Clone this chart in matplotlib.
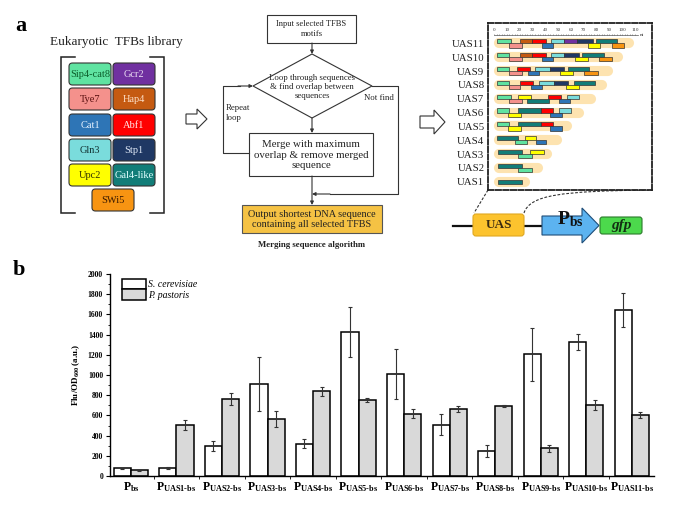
import matplotlib
matplotlib.use('Agg')
import matplotlib.pyplot as plt
from matplotlib.patches import Rectangle, FancyBboxPatch, Polygon, PathPatch
from matplotlib.path import Path
import numpy as np

plt.rcParams['font.family'] = ['Liberation Serif', 'DejaVu Serif']
plt.rcParams['mathtext.fontset'] = 'custom'
plt.rcParams['mathtext.rm'] = 'Liberation Serif'
plt.rcParams['mathtext.bf'] = 'Liberation Serif:bold'
plt.rcParams['mathtext.it'] = 'Liberation Serif:italic'
plt.rcParams['mathtext.bfit'] = 'Liberation Serif:bold:italic'

# ---------------- panel b data ----------------
promoters = ['bs', 'UAS1\u2010bs', 'UAS2\u2010bs', 'UAS3\u2010bs', 'UAS4\u2010bs', 'UAS5\u2010bs',
             'UAS6\u2010bs', 'UAS7\u2010bs', 'UAS8\u2010bs', 'UAS9\u2010bs', 'UAS10\u2010bs', 'UAS11\u2010bs']
sc_mean = [78, 75, 300, 912, 318, 1428, 1008, 509, 251, 1203, 1329, 1646]
sc_err = [5, 10, 50, 265, 45, 250, 245, 100, 60, 265, 80, 167]
pp_mean = [58, 502, 760, 565, 840, 754, 615, 665, 694, 274, 707, 602]
pp_err = [6, 48, 58, 80, 45, 20, 45, 28, 8, 33, 50, 32]
y_ticks = [0, 200, 400, 600, 800, 1000, 1200, 1400, 1600, 1800, 2000]
series_names = ['S. cerevisiae', 'P. pastoris']

# ---------------- panel a data ----------------
library_names = ['Sip4-cat8', 'Gcr2', 'Tye7', 'Hap4', 'Cat1', 'Abf1',
                 'Gln3', 'Stp1', 'Upc2', 'Gal4-like', 'SWi5']
library_fill = ['#5fe3a1', '#7030a0', '#f4918c', '#c55a11', '#2e75b6', '#ff0000',
                '#7adcdc', '#1f3864', '#ffff00', '#127d78', '#f79412']
library_text = ['#0b5d2a', '#eadcf3', '#5a1010', '#fde0c8', '#e6f2ff', '#ffe6e6',
                '#103030', '#dde6f5', '#333300', '#e0ffff', '#3a1a00']

uas_names = ['UAS11', 'UAS10', 'UAS9', 'UAS8', 'UAS7', 'UAS6',
             'UAS5', 'UAS4', 'UAS3', 'UAS2', 'UAS1']
uas_length = [109, 101, 93, 88, 80, 70, 61, 53, 45, 38.5, 28]
uas_motifs = [
    [('Sip4-cat8', 2.6, 13, 1), ('Hap4', 20, 30, 1), ('Abf1', 30, 40.5, 1), ('Gln3', 44.5, 55, 1),
     ('Gcr2', 55, 64.5, 1), ('Stp1', 64.5, 77, 1), ('Gal4-like', 79.6, 95.7, 1),
     ('Tye7', 11.4, 21.6, -1), ('Cat1', 37.5, 46, -1), ('Upc2', 73.6, 82.7, -1), ('SWi5', 92, 101.4, -1)],
    [('Sip4-cat8', 2.6, 12, 1), ('Hap4', 20, 30, 1), ('Abf1', 30, 40.5, 1), ('Gln3', 44.5, 55, 1),
     ('Stp1', 55, 66.6, 1), ('Gal4-like', 69, 86, 1),
     ('Tye7', 11.4, 21.6, -1), ('Cat1', 37.5, 46, -1), ('Upc2', 63, 73, -1), ('SWi5', 82, 92, -1)],
    [('Sip4-cat8', 2.6, 12, 1), ('Abf1', 18, 28, 1), ('Gln3', 32, 43.7, 1), ('Stp1', 43.7, 55, 1),
     ('Gal4-like', 58, 74.4, 1),
     ('Tye7', 11.4, 21.6, -1), ('Cat1', 26.8, 35, -1), ('Upc2', 51.5, 62, -1), ('SWi5', 70.5, 81, -1)],
    [('Sip4-cat8', 2.6, 12, 1), ('Abf1', 20, 30.7, 1), ('Gln3', 35, 47, 1), ('Stp1', 47, 58, 1),
     ('Gal4-like', 62.4, 78.8, 1),
     ('Tye7', 11.4, 20, -1), ('Cat1', 28.6, 37.5, -1), ('Upc2', 56, 66, -1)],
    [('Sip4-cat8', 2.6, 13, 1), ('Upc2', 19, 29, 1), ('Abf1', 42.4, 52.3, 1), ('Gln3', 57, 66.6, 1),
     ('Tye7', 11.4, 21.6, -1), ('Gal4-like', 25.5, 43, -1), ('Cat1', 51, 59, -1)],
    [('Sip4-cat8', 2.6, 12, 1), ('Gal4-like', 19, 36.4, 1), ('Abf1', 36.4, 46.3, 1), ('Gln3', 51, 60, 1),
     ('Upc2', 11, 21, -1), ('Cat1', 43.7, 52.8, -1)],
    [('Sip4-cat8', 2.6, 12, 1), ('Gal4-like', 19, 36.4, 1), ('Abf1', 36.4, 46.3, 1),
     ('Upc2', 11, 21, -1), ('Cat1', 43.7, 52.8, -1)],
    [('Gal4-like', 2.6, 19, 1), ('Upc2', 24, 33, 1),
     ('Sip4-cat8', 16, 25.5, -1), ('Cat1', 32.5, 40.6, -1)],
    [('Gal4-like', 3, 21.6, 1), ('Upc2', 28, 39, 1), ('Sip4-cat8', 19, 30, -1)],
    [('Gal4-like', 3, 21.6, 1), ('Sip4-cat8', 19, 30, -1)],
    [('Gal4-like', 3, 21.6, 0)],
]
ruler_ticks = [0, 10, 20, 30, 40, 50, 60, 70, 80, 90, 100, 110]

color_of = dict(zip(library_names, library_fill))

W, H = 687, 507
fig = plt.figure(figsize=(W / 100, H / 100), dpi=100)

# full-figure pixel-space canvas for the diagram
ax0 = fig.add_axes([0, 0, 1, 1])
ax0.set_xlim(0, W)
ax0.set_ylim(H, 0)
ax0.axis('off')

ax0.text(15, 31, 'a', fontsize=16, fontweight='bold', ha='left', va='baseline')
ax0.text(13, 275, 'b', fontsize=16, fontweight='bold', ha='left', va='baseline')

# ---- TFBs library ----
ax0.text(116, 44.5, 'Eukaryotic  TFBs library', fontsize=9.5, ha='center', va='baseline', color='#222')
bk = '#222'
ax0.plot([75, 61, 61, 75], [57, 57, 213, 213], color=bk, lw=1.1, solid_joinstyle='miter')
ax0.plot([150, 164, 164, 150], [57, 57, 213, 213], color=bk, lw=1.1, solid_joinstyle='miter')
col_x = [69, 113]
row_y = [63, 88, 114, 139, 164]
for i, name in enumerate(library_names):
    if i < 10:
        x0 = col_x[i % 2]
        y0 = row_y[i // 2]
    else:
        x0, y0 = 92, 189
    box = FancyBboxPatch((x0, y0), 42, 22, boxstyle='round,pad=0,rounding_size=3.5',
                         facecolor=library_fill[i], edgecolor='#333', lw=0.8)
    ax0.add_patch(box)
    ax0.text(x0 + 21, y0 + 11.5, name, fontsize=7.5, ha='center', va='center', color=library_text[i])


def hollow_arrow(x0, x1, xh, yc, sh, hh):
    pts = [(x0, yc - sh), (xh, yc - sh), (xh, yc - hh), (x1, yc), (xh, yc + hh),
           (xh, yc + sh), (x0, yc + sh)]
    ax0.add_patch(Polygon(pts, closed=True, facecolor='white', edgecolor='#333', lw=0.8))


hollow_arrow(186, 207, 197, 119, 5, 10)
hollow_arrow(420, 445, 434, 122, 6, 12)

# ---- flowchart ----
fc = '#333'
fs_small = 6.3
ax0.add_patch(Rectangle((267, 15), 89, 28, facecolor='white', edgecolor=fc, lw=0.8))
ax0.text(311.5, 29, 'Input selected TFBS\nmotifs', fontsize=6.1, ha='center', va='center',
         color='#222', linespacing=1.3)
arrow_kw = dict(arrowstyle='-|>', color=fc, lw=0.8, mutation_scale=5, shrinkA=0, shrinkB=0)
ax0.annotate('', xy=(312, 54), xytext=(312, 43), arrowprops=arrow_kw)
ax0.add_patch(Polygon([(312, 54), (372, 86), (312, 118), (253, 86)], closed=True,
                      facecolor='white', edgecolor=fc, lw=0.8))
ax0.text(312, 87, 'Loop through sequences\n& find overlap between\nsequences', fontsize=fs_small,
         ha='center', va='center', color='#222', linespacing=1.2)
ax0.annotate('', xy=(312, 133), xytext=(312, 118), arrowprops=arrow_kw)
ax0.add_patch(Rectangle((249, 133), 124, 43, facecolor='white', edgecolor=fc, lw=0.8))
ax0.text(311, 155, 'Merge with maximum\noverlap & remove merged\nsequence', fontsize=7.8,
         ha='center', va='center', color='#222', linespacing=1.15)
ax0.plot([249, 223, 223, 240], [153, 153, 86, 86], color=fc, lw=0.8)
ax0.annotate('', xy=(253, 86), xytext=(238, 86), arrowprops=arrow_kw)
ax0.text(226, 113, 'Repeat\nloop', fontsize=fs_small, ha='left', va='center', color='#222',
         linespacing=1.5)
ax0.plot([372, 398, 398, 330], [86, 86, 194, 194], color=fc, lw=0.8)
ax0.annotate('', xy=(312, 194), xytext=(330, 194), arrowprops=arrow_kw)
ax0.text(364, 98.5, 'Not find', fontsize=fs_small, ha='left', va='center', color='#222')
ax0.annotate('', xy=(312, 205), xytext=(312, 176), arrowprops=arrow_kw)
ax0.add_patch(Rectangle((242, 205), 140, 28, facecolor='#f5c244', edgecolor='#555', lw=0.8))
ax0.text(312, 219.5, 'Output shortest DNA sequence\ncontaining all selected TFBS', fontsize=7.4,
         ha='center', va='center', color='#222', linespacing=1.15)
ax0.text(312, 245, 'Merging sequence algorithm', fontsize=6.3, fontweight='bold',
         ha='center', va='center', color='#222')

# ---- construct ----
ax0.plot([453, 543], [226, 226], color='#111', lw=1.6, zorder=1)
ax0.add_patch(FancyBboxPatch((473, 214), 51, 22, boxstyle='round,pad=0,rounding_size=3',
                             facecolor='#fcc32e', edgecolor='#e0a820', lw=0.8, zorder=2))
ax0.text(498.5, 225.5, 'UAS', fontsize=9.5, fontweight='bold', ha='center', va='center',
         color='#3a2a10', zorder=3)
ax0.add_patch(Polygon([(542, 216), (582, 216), (582, 208), (599, 225.5), (582, 243),
                       (582, 235), (542, 235)], closed=True, facecolor='#5cb3f0',
                      edgecolor='#1f4e79', lw=0.8, zorder=2))
ax0.text(557, 224.5, r'P$_{\mathbf{bs}}$', fontsize=14, fontweight='bold', ha='left',
         va='baseline', color='#111', zorder=3)
ax0.add_patch(FancyBboxPatch((600, 217), 42, 17, boxstyle='round,pad=0,rounding_size=2.5',
                             facecolor='#4cd94c', edgecolor='#2a7a2a', lw=0.8, zorder=2))
ax0.text(621, 225.5, 'gfp', fontsize=11, fontweight='bold', style='italic', ha='center',
         va='center', color='#123012', zorder=3)
ax0.plot([488, 474], [190, 213], color='#333', lw=0.8, ls=(0, (2.5, 1.5)))
curve = Path([(524, 213), (530, 195), (560, 191), (652, 190)],
             [Path.MOVETO, Path.CURVE4, Path.CURVE4, Path.CURVE4])
ax0.add_patch(PathPatch(curve, facecolor='none', edgecolor='#333', lw=0.8, ls=(0, (2.5, 1.5))))

# ---- UAS panel ----
axu = fig.add_axes([488 / W, 1 - 190 / H, 164 / W, 167 / H])
axu.set_xlim(-4.7, 123.3)
axu.set_ylim(10.6, -1.48)
for s in axu.spines.values():
    s.set_linestyle((0, (3, 1.2)))
    s.set_linewidth(1.3)
    s.set_color('#222')
axu.set_xticks([])
axu.set_yticks(range(len(uas_names)))
axu.set_yticklabels(uas_names, fontsize=7.8, color='#222')
axu.tick_params(axis='y', length=0, pad=2.5)
for r, L in enumerate(uas_length):
    axu.plot([3.5, L - 4], [r, r], color='#fde3b0', lw=7.3, solid_capstyle='round', zorder=1)
    for name, a, b, lev in uas_motifs[r]:
        if lev == 1:
            y0 = r - 0.3
        elif lev == -1:
            y0 = r
        else:
            y0 = r - 0.15
        axu.add_patch(Rectangle((a, y0), b - a, 0.3, facecolor=color_of[name],
                                edgecolor='#333', lw=0.5, zorder=2))
axu.plot([0, 112], [-0.62, -0.62], color='#555', lw=0.5)
axu.vlines(np.arange(0, 112, 2), -0.62, -0.7, color='#555', lw=0.4)
for t in ruler_ticks:
    axu.text(t, -0.98, str(t), fontsize=3.6, ha='center', va='center', color='#333')
axu.text(115.5, -0.62, 'nt', fontsize=3.8, ha='center', va='center', color='#333')

# ---------------- panel b ----------------
ax = fig.add_axes([110 / W, 1 - 476 / H, (654 - 110) / W, (476 - 274) / H])
x = np.arange(len(promoters))
w = 0.375
ekw = dict(ecolor='#333', elinewidth=0.8, capsize=1.6, capthick=0.8)
ax.bar(x - w / 2, sc_mean, w, yerr=sc_err, color='white', edgecolor='black', lw=1.1,
       error_kw=ekw, label=series_names[0], zorder=2)
ax.bar(x + w / 2, pp_mean, w, yerr=pp_err, color='#d9d9d9', edgecolor='black', lw=1.1,
       error_kw=ekw, label=series_names[1], zorder=2)
ax.set_xlim(-0.46, len(promoters) - 1 + 0.49)
ax.set_ylim(0, 2000)
ax.spines['top'].set_visible(False)
ax.spines['right'].set_visible(False)
ax.spines['left'].set_linewidth(1.0)
ax.spines['bottom'].set_linewidth(1.0)
ax.set_yticks(y_ticks)
ax.set_yticklabels([str(v) for v in y_ticks], fontsize=5.5, fontweight='bold')
ax.set_yticks(np.arange(100, 2000, 200), minor=True)
ax.tick_params(axis='y', which='major', length=3, width=0.8, pad=2)
ax.tick_params(axis='y', which='minor', length=1.6, width=0.6)
ax.set_xticks(x)
ax.set_xticklabels([r'$\mathbf{P}_{\mathbf{' + p + '}}$' for p in promoters], fontsize=8.5)
ax.set_xticks(np.arange(0.5, len(promoters) - 1, 1), minor=True)
ax.tick_params(axis='x', which='major', length=0, pad=3)
ax.tick_params(axis='x', which='minor', length=2, width=0.6)
ax.set_ylabel(r'Flu/OD$_{\mathbf{600}}$ (a.u.)', fontsize=6.5, fontweight='bold', labelpad=4)
ax.legend(loc='upper left', bbox_to_anchor=(0.022, 0.975), frameon=False,
          prop={'style': 'italic', 'size': 7}, handlelength=2.5, handleheight=1.25,
          labelspacing=0.0, handletextpad=0.15, borderpad=0, borderaxespad=0)

fig.savefig('out.png', dpi=100)
